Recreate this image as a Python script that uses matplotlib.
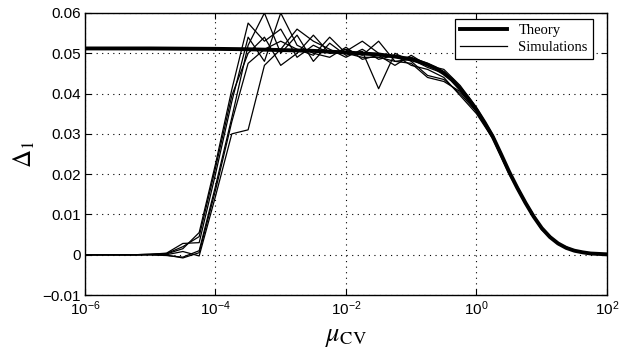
import matplotlib
matplotlib.use("Agg")
import matplotlib.pyplot as plt

# log10 of mu_CV sample points for the simulations (quarter decades from 1e-6 to 1e2)
log_mu = [-6.0, -5.75, -5.5, -5.25, -5.0, -4.75, -4.5, -4.25, -4.0, -3.75, -3.5,
          -3.25, -3.0, -2.75, -2.5, -2.25, -2.0, -1.75, -1.5, -1.25, -1.0,
          -0.75, -0.5, -0.25, 0.0, 0.25, 0.5, 0.75, 1.0, 1.25, 1.5, 1.75, 2.0]
mu = [10 ** v for v in log_mu]

# theory curve, denser where it bends
theory_log_mu = [-6.0, -5.0, -4.0, -3.5, -3.0, -2.5, -2.0, -1.5, -1.25,
                 -1.0, -0.875, -0.75, -0.625, -0.5, -0.375, -0.25, -0.125,
                 0.0, 0.125, 0.25, 0.375, 0.5, 0.625, 0.75, 0.875, 1.0,
                 1.125, 1.25, 1.375, 1.5, 1.625, 1.75, 1.875, 2.0]
theory_mu = [10 ** v for v in theory_log_mu]
theory = [0.0512, 0.0512, 0.0511, 0.0510, 0.0508, 0.0506, 0.0502, 0.0497, 0.0492,
          0.0485, 0.0479, 0.0472, 0.0463, 0.0450, 0.0434, 0.0412, 0.0388,
          0.0360, 0.0328, 0.0293, 0.0250, 0.0206, 0.0166, 0.0129, 0.0095, 0.0066,
          0.0044, 0.0028, 0.0017, 0.0010, 0.0006, 0.0003, 0.0002, 0.0001]

sim_1 = [0.0, 0.0, 0.0, 0.0, 0.0001, 0.0002, 0.0015, 0.0055, 0.0225, 0.0410, 0.0575,
         0.0530, 0.0560, 0.0490, 0.0520, 0.0500, 0.0510, 0.0495, 0.0530, 0.0480,
         0.0485, 0.0465, 0.0450, 0.0410, 0.0360, 0.0295, 0.0206, 0.0131, 0.0065,
         0.0028, 0.0011, 0.0004, 0.0001]
sim_2 = [0.0, 0.0, 0.0, 0.0, 0.0, -0.0002, -0.0006, 0.0010, 0.0170, 0.0340, 0.0520,
         0.0600, 0.0500, 0.0545, 0.0480, 0.0525, 0.0495, 0.0505, 0.0412, 0.0500,
         0.0480, 0.0445, 0.0435, 0.0400, 0.0355, 0.0290, 0.0202, 0.0127, 0.0063,
         0.0026, 0.0010, 0.0003, 0.0001]
sim_3 = [0.0, 0.0, 0.0, 0.0, 0.0001, 0.0004, 0.0028, 0.0030, 0.0200, 0.0380, 0.0540,
         0.0480, 0.0600, 0.0520, 0.0500, 0.0490, 0.0515, 0.0485, 0.0495, 0.0470,
         0.0495, 0.0470, 0.0460, 0.0420, 0.0365, 0.0298, 0.0208, 0.0132, 0.0066,
         0.0028, 0.0010, 0.0004, 0.0001]
sim_4 = [0.0, 0.0, 0.0, 0.0, 0.0, 0.0, 0.0008, -0.0003, 0.0145, 0.0300, 0.0310,
         0.0470, 0.0510, 0.0560, 0.0530, 0.0510, 0.0490, 0.0510, 0.0485, 0.0495,
         0.0470, 0.0460, 0.0440, 0.0395, 0.0350, 0.0288, 0.0200, 0.0126, 0.0062,
         0.0026, 0.0009, 0.0003, 0.0000]
sim_5 = [0.0, 0.0, 0.0, 0.0, 0.0001, 0.0003, 0.0020, 0.0045, 0.0215, 0.0395, 0.0500,
         0.0540, 0.0470, 0.0500, 0.0545, 0.0500, 0.0505, 0.0530, 0.0500, 0.0490,
         0.0490, 0.0475, 0.0455, 0.0415, 0.0362, 0.0294, 0.0205, 0.0130, 0.0065,
         0.0027, 0.0010, 0.0004, 0.0001]
sim_6 = [0.0, 0.0, 0.0, 0.0, 0.0, -0.0001, -0.0008, 0.0005, 0.0160, 0.0330, 0.0475,
         0.0510, 0.0530, 0.0510, 0.0495, 0.0540, 0.0500, 0.0490, 0.0490, 0.0480,
         0.0475, 0.0440, 0.0430, 0.0405, 0.0358, 0.0291, 0.0203, 0.0128, 0.0064,
         0.0027, 0.0010, 0.0004, 0.0001]
simulations = [sim_1, sim_2, sim_3, sim_4, sim_5, sim_6]

y_ticks = [-0.01, 0, 0.01, 0.02, 0.03, 0.04, 0.05, 0.06]
y_tick_labels = ["\u22120.01", "0", "0.01", "0.02", "0.03", "0.04", "0.05", "0.06"]
x_ticks = [1e-6, 1e-4, 1e-2, 1e0, 1e2]

plt.rcParams["mathtext.fontset"] = "stix"

fig = plt.figure(figsize=(6.19, 3.56), dpi=100)
ax = fig.add_axes([0.1373, 0.1713, 0.8433, 0.7922])

for i, sim in enumerate(simulations):
    ax.plot(mu, sim, color="black", linewidth=0.9,
            label="Simulations" if i == 0 else None, zorder=2)
ax.plot(theory_mu, theory, color="black", linewidth=2.8, label="Theory", zorder=3)

ax.set_xscale("log")
ax.set_xlim(1e-6, 1e2)
ax.set_ylim(-0.01, 0.06)
ax.set_xticks(x_ticks)
ax.set_xticks([], minor=True)
ax.set_yticks(y_ticks)
ax.set_yticklabels(y_tick_labels)

for lbl in ax.get_xticklabels() + ax.get_yticklabels():
    lbl.set_family("Liberation Sans")
    lbl.set_fontsize(11)

ax.tick_params(direction="in", length=4, width=0.8, top=True, right=True, pad=3)
ax.grid(True, color="black", linestyle=(0, (1, 4)), linewidth=0.8)
for s in ax.spines.values():
    s.set_linewidth(1.0)

ax.set_xlabel(r"$\mu_{\rm CV}$", fontsize=19, labelpad=4)
ax.set_ylabel(r"$\Delta_1$", fontsize=18, labelpad=4)

handles, labels = ax.get_legend_handles_labels()
order = [labels.index("Theory"), labels.index("Simulations")]
leg = ax.legend([handles[j] for j in order], [labels[j] for j in order],
                loc="upper right", bbox_to_anchor=(0.973, 0.979), borderaxespad=0,
                prop={"family": "Liberation Serif", "size": 10.5},
                fancybox=False, edgecolor="black", framealpha=1,
                borderpad=0.35, handlelength=3.2, labelspacing=0.25)
leg.get_frame().set_linewidth(0.9)

fig.savefig("out.png", dpi=100)
